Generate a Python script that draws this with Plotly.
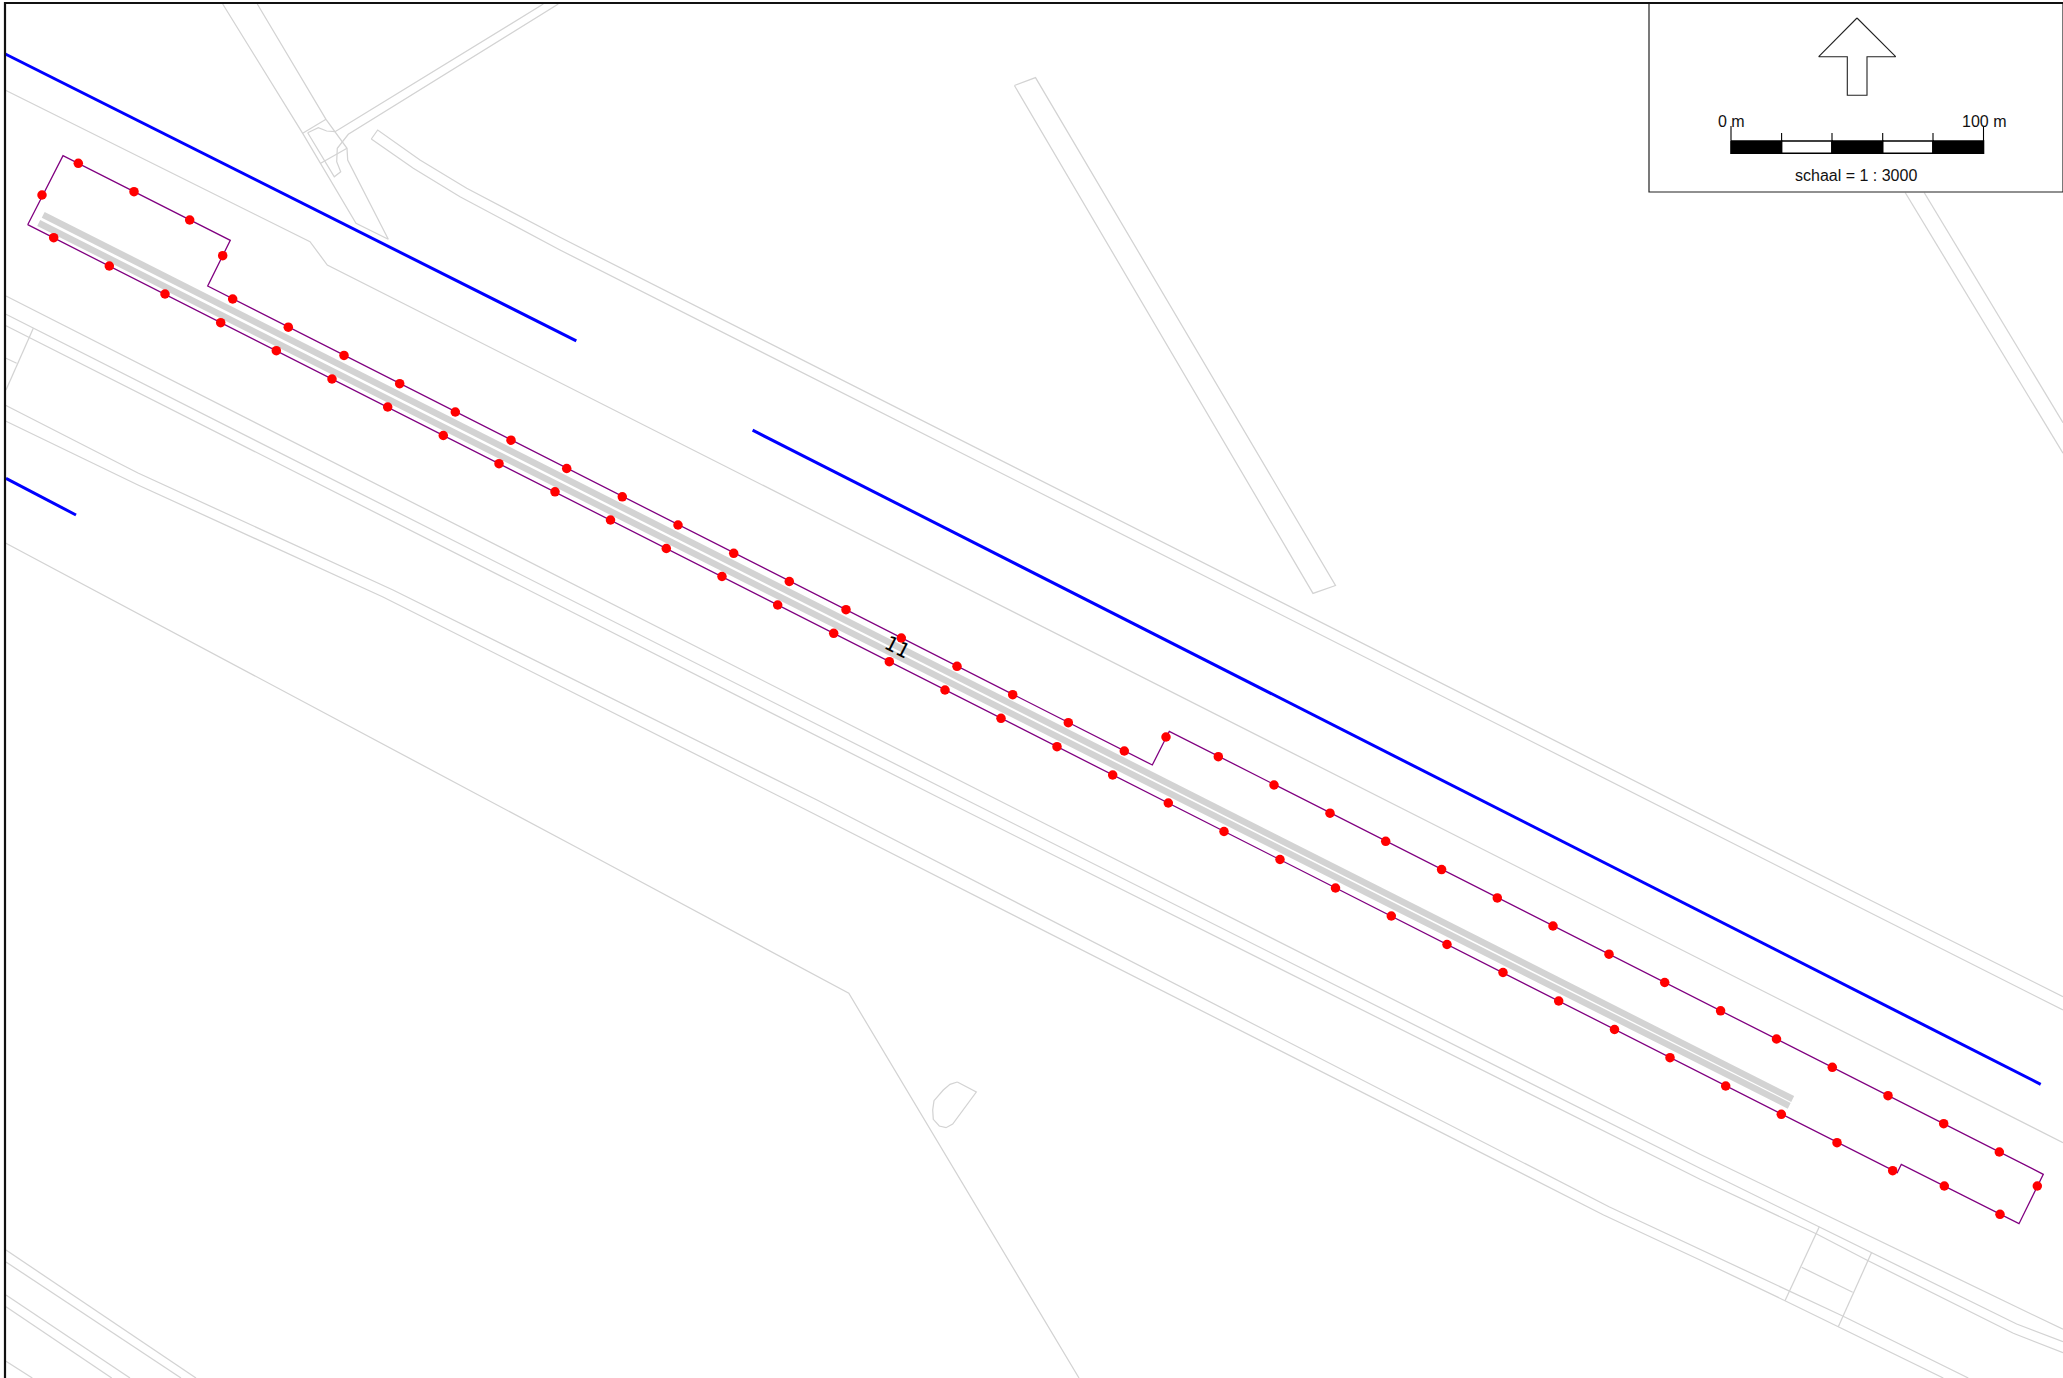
import plotly.graph_objects as go

# Map features (map units = reference pixels)
road_lines = [
    [(222.7,4),(302.7,133.3),(356,223.3),(388.3,239.3),(347.7,160),(347,148.3),(326,119.3),(257.3,4)],
    [(302.7,133.3),(326,119.3)],
    [(307.7,132.7),(318.3,127.7),(326.7,131),(335,131.7),(340.7,128.3),(543.3,4)],
    [(307.7,132.7),(334.3,176.7),(340.7,171.7),(336.7,161.7),(337.3,148.3),(348.3,134.3),(558.3,4)],
    [(320.7,163.3),(347,148.3)],
    [(371.3,139),(377.7,130),(420,160),(466.7,188.3),(560,237.3),(1870,900),(2063,996.7)],
    [(371.3,139),(413.3,168.3),(460,196.7),(560,250),(1845,900),(2063,1010)],
    [(5,90),(310,241.7),(327.3,265),(1800,1009),(2063,1142.7)],
    [(6,296),(998,800),(1700,1154.3),(2063,1329.3)],
    [(6,314.3),(966.5,800),(1700,1168.3),(1819.3,1226.7),(1871.7,1252.3),(2016.7,1324),(2063,1341.7)],
    [(6,325.7),(943.5,800),(1700,1179.3),(1816.7,1234),(1866.7,1260),(2013.3,1333.3),(2063,1352.7)],
    [(1819.3,1226.7),(1785,1300.7)],
    [(1871.7,1252.3),(1838.3,1326.7)],
    [(1801.7,1267.3),(1852.7,1292.3)],
    [(5,405),(138,473),(393,590),(817,800),(1609,1206.7),(1700,1249.3),(1789.3,1290.7),(1842.7,1316),(1968.3,1378)],
    [(5,420.7),(138,485),(383,597),(800,806.7),(1603.6,1215),(1700,1260),(1785,1300.7),(1838.3,1326.7),(1943.3,1378)],
    [(33.3,328.3),(6,390)],
    [(6,358.3),(16.7,363.3)],
    [(5,542.7),(581.6,850),(848.8,993.3),(940.6,1146.7),(1079,1378)],
    [(957.3,1082),(976.3,1092),(952.7,1124),(946,1127.7),(939.3,1126),(933.3,1119.3),(932.7,1110),(934,1100.7),(943.3,1090),(950,1084.3),(957.3,1082)],
    [(6,1250),(196,1378)],
    [(6,1262),(181,1378)],
    [(6,1295),(130,1378)],
    [(6,1306.7),(111.7,1378)],
    [(6,1361.3),(32.3,1378)],
    [(1014.4,85.5),(1035.5,77.6),(1335.5,585.5),(1313,593.4),(1014.4,85.5)],
    [(1905.3,192.7),(2063,453.3)],
    [(1924.3,192.7),(2063,422.7)],
]
blue_lines = [
    [(5.3,54),(576.3,340.8)],
    [(752.6,430.2),(2040.7,1084.3)],
    [(6,478.3),(76,515)],
]
rail_lines = [
    [(43.2,214.8),(1792.7,1099)],
    [(38.7,223),(1789.2,1105.8)],
]
contour_x = [27.7,1897.3,1901.3,2019,2043.3,1169.3,1152.3,207.7,230.3,63,27.7]
contour_y = [224.7,1172.7,1164.3,1223.7,1174.3,731.3,765,286,240.3,155.7,224.7]
point_x = [78.3,134,189.7,222.7,232.7,288.3,344,399.7,455.3,511,566.7,622.3,678,733.7,789.3,846,901.3,957,1012.7,1068.3,1124.3,1166,
           1218.3,1274,1330,1385.7,1441.6,1497.3,1553,1609,1664.7,1720.6,1776.5,1832.3,1888,1943.7,1999.3,2037.3,2000,1944.3,1892.7,1837,1781.3,1725.7,
           1670,1614.5,1558.7,1503,1447,1391.3,1335.5,1280,1224,1168.3,1112.7,1057,1001,945,889.3,833.7,777.7,722,666.3,610.5,555,499,443.3,387.7,332,276.3,220.7,165,109.3,53.7,42]
point_y = [163.3,191.7,220,255.7,299,327.2,355.4,383.7,412,440.2,468.5,496.8,525,553.3,581.5,609.7,638,666.3,694.7,722.7,751,737,
           756.7,785,813.2,841.3,869.6,897.9,926,954.2,982.5,1010.8,1039,1067.3,1095.7,1123.7,1152,1186,1214.3,1186,1170.7,1142.7,1114.3,1086,
           1057.7,1029.5,1001,972.5,944.5,916,888,859.5,831.5,803,775,746.7,718.3,690,661.7,633.3,605,576.5,548.5,520,491.8,463.7,435.5,407,379,350.7,322.7,294,266,237.7,195]
label_text = "11"
label_pos = (897.5, 646.5)

frame_x = [5,5,2063]
frame_y = [1378,3,3]
legend_x = [2063,1649,1649,2063,2063]
legend_y = [3,3,192,192,3]
arrow_x = [1857,1818.7,1847.3,1847.3,1867,1867,1895.7,1857]
arrow_y = [18,56.7,56.7,95.3,95.3,56.7,56.7,18]
bar_edges = [1731,1781.6,1832,1882.7,1933,1983.5]
bar_top, bar_bottom = 141, 153.3
bar_fill = ["black","white","black","white","black"]
tick_tops = [126,133,133,133,133,126]
bar_labels = ["0 m","100 m"]
scale_text = "schaal = 1 : 3000"

GREY = "#d3d3d3"
fig = go.Figure()

def line(pts, color, width):
    fig.add_trace(go.Scatter(x=[p[0] for p in pts], y=[p[1] for p in pts], mode="lines",
                             line=dict(color=color, width=width), hoverinfo="skip", showlegend=False))

for pts in road_lines:
    line(pts, GREY, 1.25)
for pts in blue_lines:
    line(pts, "#0000ff", 3)
for pts in rail_lines:
    line(pts, GREY, 6.5)

fig.add_trace(go.Scatter(x=contour_x, y=contour_y, mode="lines",
                         line=dict(color="#800080", width=1.3), hoverinfo="skip", showlegend=False))
fig.add_trace(go.Scatter(x=point_x, y=point_y, mode="markers",
                         marker=dict(color="#ff0000", size=9.5, line=dict(width=0)), hoverinfo="skip", showlegend=False))

fig.add_annotation(x=label_pos[0], y=label_pos[1], text=label_text, textangle=27, showarrow=False,
                   font=dict(family="DejaVu Sans", size=20, color="black"))

fig.add_trace(go.Scatter(x=legend_x, y=legend_y, mode="lines", fill="toself", fillcolor="white",
                         line=dict(color="#222222", width=1.2), hoverinfo="skip", showlegend=False))
line(list(zip(frame_x, frame_y)), "#111111", 2.2)
fig.add_trace(go.Scatter(x=arrow_x, y=arrow_y, mode="lines", fill="toself", fillcolor="white",
                         line=dict(color="#222222", width=1.1), hoverinfo="skip", showlegend=False))
for i, c in enumerate(bar_fill):
    x0, x1 = bar_edges[i], bar_edges[i+1]
    fig.add_trace(go.Scatter(x=[x0,x1,x1,x0,x0], y=[bar_top,bar_top,bar_bottom,bar_bottom,bar_top],
                             mode="lines", fill="toself", fillcolor=c, line=dict(color="black", width=1.6),
                             hoverinfo="skip", showlegend=False))
for xv, yt in zip(bar_edges, tick_tops):
    line([(xv,yt),(xv,bar_top)], "black", 1.1)

FONT = dict(family="Liberation Sans", size=16, color="#111111")
fig.add_annotation(x=bar_edges[0], y=121, text=bar_labels[0], showarrow=False, font=FONT)
fig.add_annotation(x=bar_edges[-1], y=121, text=bar_labels[1], showarrow=False, font=FONT)
fig.add_annotation(x=1856, y=175, text=scale_text, showarrow=False, font=FONT)

fig.update_layout(width=2063, height=1378, margin=dict(l=0,r=0,t=0,b=0),
                  paper_bgcolor="white", plot_bgcolor="white",
                  xaxis=dict(range=[0,2063], visible=False, fixedrange=True),
                  yaxis=dict(range=[1378,0], visible=False, fixedrange=True))
fig.write_html("out.html", config=dict(displayModeBar=False),
               post_script="document.body.style.margin='0';document.documentElement.style.overflow='hidden';")
